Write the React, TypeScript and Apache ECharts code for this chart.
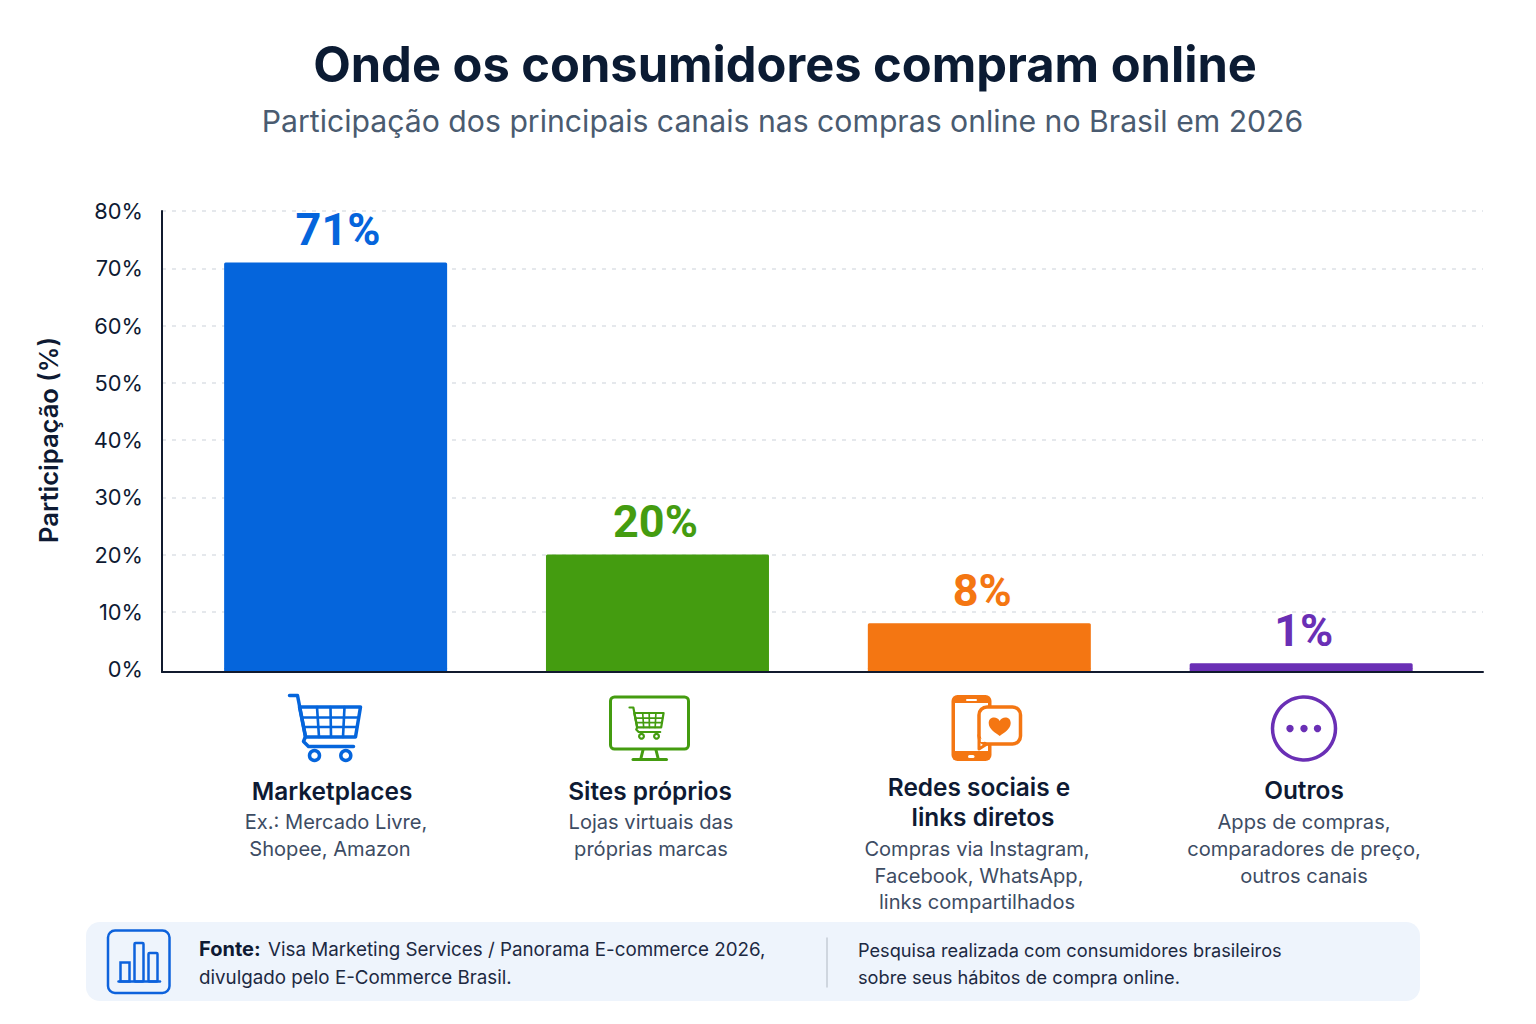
import React, { useEffect, useRef } from "react";
import * as echarts from "echarts";

const categories = ["Marketplaces", "Sites próprios", "Redes sociais e links diretos", "Outros"];
const shares = [71, 20, 8, 1];
const barColors = ["#0565DC", "#449C10", "#F47612", "#6A2FB5"];
const labelNudges = [[2.4, 0], [-2, 0], [3, 0], [2.5, 0]];
const yTicks = { min: 0, max: 80, interval: 10 };
const titleText = "Onde os consumidores compram online";
const subtitleText = "Participação dos principais canais nas compras online no Brasil em 2026";
const yAxisName = "Participação (%)";
const headings: [string, number, number][] = [
  ["Marketplaces", 332, 791],
  ["Sites próprios", 650, 791],
  ["Redes sociais e", 979, 787],
  ["links diretos", 983, 817],
  ["Outros", 1304, 790],
];
const descriptions: [string, number, number][] = [
  ["Ex.: Mercado Livre,", 336, 822],
  ["Shopee, Amazon", 330, 849],
  ["Lojas virtuais das", 651, 822],
  ["próprias marcas", 651, 849],
  ["Compras via Instagram,", 977, 849],
  ["Facebook, WhatsApp,", 979, 876],
  ["links compartilhados", 977, 902],
  ["Apps de compras,", 1304, 822],
  ["comparadores de preço,", 1304, 849],
  ["outros canais", 1304, 876],
];
const sourceLabel = "Fonte:";
const sourceLine1 = "Visa Marketing Services / Panorama E-commerce 2026,";
const sourceLine2 = "divulgado pelo E-Commerce Brasil.";
const noteLine1 = "Pesquisa realizada com consumidores brasileiros";
const noteLine2 = "sobre seus hábitos de compra online.";

const FONT = "Inter, 'Noto Sans', sans-serif";
const INK = "#0E1A33";
const AXIS = "#111A2E";
const BAR_WIDTH = 223;
const AXIS_DROP = 3;

echarts.graphic.registerShape(
  "heartIcon",
  echarts.graphic.extendPath(
    "M0 -5 C-2 -10 -11 -10 -11 -3 C-11 3 -4 7 0 10 C4 7 11 3 11 -3 C11 -10 2 -10 0 -5 Z",
    {}
  )
);

const line = (x1: number, y1: number, x2: number, y2: number, stroke: string, lineWidth: number) => ({
  type: "line",
  shape: { x1, y1, x2, y2 },
  style: { stroke, lineWidth, lineCap: "round" },
});

const cart = (x: number, y: number, scale: number, color: string, lw: number) => ({
  type: "group",
  x,
  y,
  scaleX: scale,
  scaleY: scale,
  children: [
    {
      type: "polyline",
      shape: { points: [[0, 0], [8, 0], [16, 41], [14, 46], [19, 51], [64, 51]] },
      style: { stroke: color, lineWidth: lw, fill: "none", lineJoin: "round", lineCap: "round" },
    },
    {
      type: "polygon",
      shape: { points: [[10, 11.5], [71, 11.5], [66, 41.5], [16, 41.5]] },
      style: { stroke: color, lineWidth: lw, fill: "none", lineJoin: "round" },
    },
    line(12, 22, 69, 22, color, lw * 0.75),
    line(14, 31.5, 67.5, 31.5, color, lw * 0.75),
    line(27.5, 11.5, 29.5, 41.5, color, lw * 0.75),
    line(41, 11.5, 41.5, 41.5, color, lw * 0.75),
    line(55, 11.5, 53.5, 41.5, color, lw * 0.75),
    { type: "circle", shape: { cx: 25, cy: 60, r: 5 }, style: { stroke: color, lineWidth: lw, fill: "#fff" } },
    { type: "circle", shape: { cx: 56.3, cy: 60, r: 5 }, style: { stroke: color, lineWidth: lw, fill: "#fff" } },
  ],
});

const textEl = (text: string, x: number, y: number, size: number, weight: number, fill: string, align = "center") => ({
  type: "text",
  x,
  y,
  style: { text, fontSize: size, fontWeight: weight, fontFamily: FONT, fill, textAlign: align, textVerticalAlign: "middle" },
});

const roundRect = (x: number, y: number, w: number, h: number, r: number, style: any) => ({
  type: "rect",
  shape: { x, y, width: w, height: h, r },
  style,
});

const buildGraphics = (chart: echarts.ECharts) => {
  const [blue, green, orange, purple] = barColors;
  const zeroY = chart.convertToPixel({ yAxisIndex: 1 }, 0) as number;
  const plinths = categories.map((name, i) => {
    const cx = chart.convertToPixel({ xAxisIndex: 1 }, name) as number;
    return {
      ...roundRect(cx - BAR_WIDTH / 2, zeroY - 0.5, BAR_WIDTH, AXIS_DROP, 0, { fill: barColors[i] }),
      z: -1,
    };
  });
  const heads = headings.map(([t, x, y]) => textEl(t, x, y, 24.4, 600, INK));
  const descs = descriptions.map(([t, x, y]) => textEl(t, x, y, 20.1, 400, "#3D4C63"));
  const monitor = [
    roundRect(610.5, 697, 78, 52, 4, { stroke: green, lineWidth: 3, fill: "#fff" }),
    line(643, 750, 641, 758, green, 3),
    line(656, 750, 658, 758, green, 3),
    line(633, 759.5, 666.5, 759.5, green, 3),
    cart(629.5, 707.5, 0.48, green, 4.6),
  ];
  const phone = [
    roundRect(951.5, 695, 40, 66, 6, { fill: orange }),
    roundRect(955, 703, 33, 48, 0, { fill: "#fff" }),
    roundRect(966, 699, 11, 2, 1, { fill: "#fff" }),
    roundRect(968, 755, 6.5, 3, 1.5, { fill: "#fff" }),
    {
      type: "polygon",
      shape: { points: [[979, 735], [979, 749], [987, 744]] },
      style: { fill: "#fff", stroke: orange, lineWidth: 3, lineJoin: "round" },
    },
    roundRect(979, 707, 41.5, 37, 8, { fill: "#fff", stroke: orange, lineWidth: 3.5 }),
    {
      type: "polygon",
      shape: { points: [[980.8, 738], [980.8, 742], [985, 742]] },
      style: { fill: "#fff" },
    },
    { type: "heartIcon", x: 999.7, y: 726, style: { fill: orange } },
  ];
  const dots = [1290, 1304, 1317.5].map((cx) => ({
    type: "circle",
    shape: { cx, cy: 728.5, r: 3.7 },
    style: { fill: purple },
  }));
  const footer = [
    roundRect(86, 922, 1334, 79, 14, { fill: "#EEF4FC" }),
    roundRect(108, 930.5, 61.5, 62.5, 7, { stroke: "#0D62DC", lineWidth: 2.5, fill: "none" }),
    roundRect(120.5, 962.5, 9, 19, 0, { stroke: "#0D62DC", lineWidth: 2.5, fill: "none" }),
    roundRect(134.5, 943, 9, 38.5, 1, { stroke: "#0D62DC", lineWidth: 2.5, fill: "none" }),
    roundRect(148.5, 953, 9, 28.5, 1, { stroke: "#0D62DC", lineWidth: 2.5, fill: "none" }),
    line(118.5, 981.5, 160, 981.5, "#0D62DC", 2.5),
    line(827, 938, 827, 987, "#C5CCD6", 1.5),
    textEl(sourceLabel, 199, 949, 20, 700, INK, "left"),
    textEl(sourceLine1, 268, 949, 18.8, 400, "#1C2942", "left"),
    textEl(sourceLine2, 199, 977, 18.8, 400, "#1C2942", "left"),
    textEl(noteLine1, 858, 950, 18.2, 400, "#1C2942", "left"),
    textEl(noteLine2, 858, 977, 18.2, 400, "#1C2942", "left"),
  ];
  return [
    ...plinths,
    ...footer,
    line(162, 666, 162, 672, AXIS, 2),
    cart(289.5, 695.5, 1, blue, 3.5),
    ...monitor,
    ...phone,
    { type: "circle", shape: { cx: 1304, cy: 728.5, r: 31.5 }, style: { stroke: purple, lineWidth: 3.5, fill: "none" } },
    ...dots,
    ...heads,
    ...descs,
  ];
};

export default function App() {
  const ref = useRef<HTMLDivElement>(null);
  useEffect(() => {
    document.body.style.margin = "0";
    const chart = echarts.init(ref.current!, undefined, { renderer: "svg" });
    chart.setOption({
      animation: false,
      backgroundColor: "#FFFFFF",
      title: [
        {
          text: titleText,
          left: 780,
          top: 35,
          textAlign: "center",
          textStyle: { fontFamily: FONT, fontSize: 48.8, fontWeight: 700, color: "#0B1B33" },
        },
        {
          text: subtitleText,
          left: 777.5,
          top: 101,
          textAlign: "center",
          textStyle: { fontFamily: FONT, fontSize: 30.2, fontWeight: 400, color: "#4A5B70" },
        },
      ],
      grid: [
        { left: 162, right: 53, top: 211, bottom: 355 },
        { left: 174.7, right: 73.9, top: 211, bottom: 355 },
      ],
      xAxis: [
        {
          type: "category",
          gridIndex: 0,
          data: categories,
          offset: AXIS_DROP,
          axisLine: { onZero: false, lineStyle: { color: AXIS, width: 2 } },
          axisTick: { show: false },
          axisLabel: { show: false },
        },
        { type: "category", gridIndex: 1, data: categories, show: false },
      ],
      yAxis: [
        {
          type: "value",
          gridIndex: 0,
          ...yTicks,
          name: yAxisName,
          nameLocation: "middle",
          nameGap: 101,
          nameTextStyle: { fontFamily: FONT, fontSize: 25.5, fontWeight: 600, color: INK },
          axisLine: { show: true, lineStyle: { color: AXIS, width: 2 } },
          axisTick: { show: false },
          axisLabel: { formatter: "{value}%", margin: 19, fontFamily: FONT, fontSize: 21.8, color: INK },
          splitLine: { show: true, showMinLine: false, lineStyle: { type: [4, 6], color: "#DDE1E6", width: 1.5 } },
        },
        { type: "value", gridIndex: 1, ...yTicks, show: false },
      ],
      series: [
        {
          type: "bar",
          xAxisIndex: 1,
          yAxisIndex: 1,
          barWidth: BAR_WIDTH,
          z: 3,
          data: shares.map((value, i) => ({
            value,
            itemStyle: { color: barColors[i], borderRadius: [1.5, 1.5, 0, 0] },
            label: { color: barColors[i], offset: labelNudges[i] },
          })),
          label: {
            show: true,
            position: "top",
            distance: 10.5,
            formatter: "{c}%",
            fontFamily: "Roboto, Inter, sans-serif",
            fontSize: 45,
            fontWeight: 700,
          },
        },
      ],
    });
    chart.setOption({ graphic: buildGraphics(chart) });
    return () => chart.dispose();
  }, []);
  return <div ref={ref} style={{ width: 1536, height: 1024 }} />;
}
